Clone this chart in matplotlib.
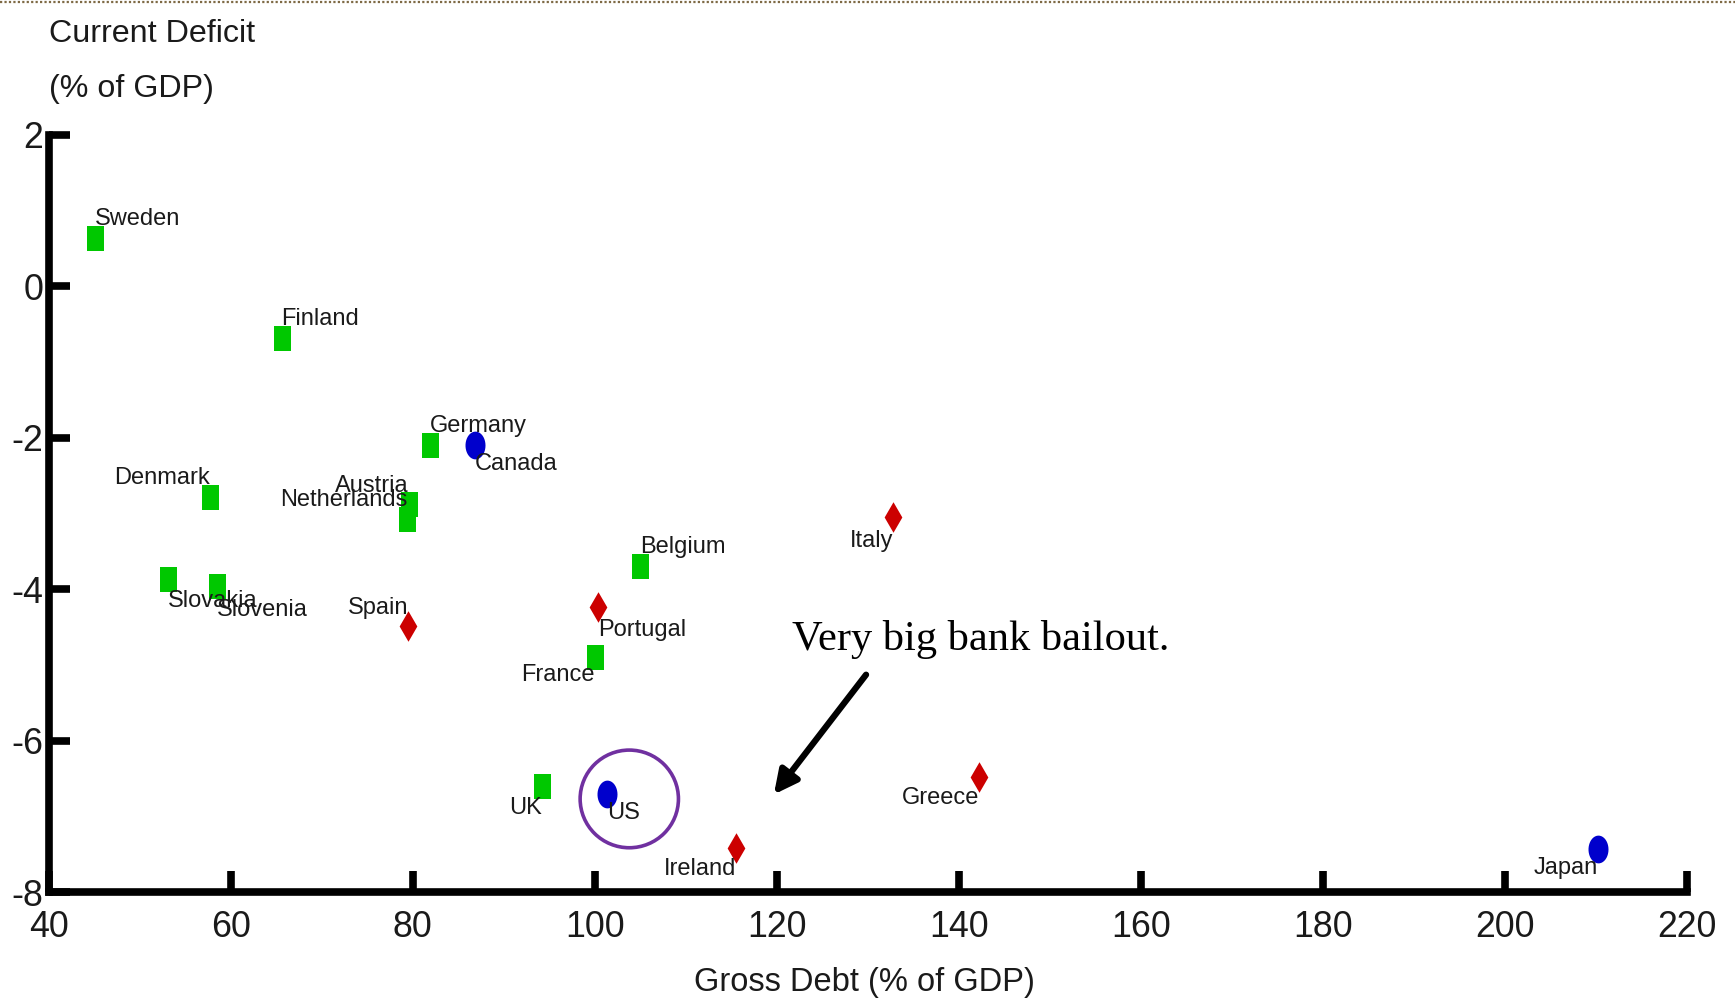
import numpy as np
import matplotlib
matplotlib.use("Agg")
import matplotlib.pyplot as plt
from matplotlib import font_manager
from matplotlib.patches import Ellipse
from matplotlib.lines import Line2D

# the original uses a narrow Arial-like face; use a narrow one if present,
# otherwise plain Liberation Sans set a bit smaller
installed = {f.name for f in font_manager.fontManager.ttflist}
if 'Liberation Sans Narrow' in installed:
    sans = 'Liberation Sans Narrow'
    k = 1.0
else:
    sans = 'Liberation Sans'
    k = 0.83
plt.rcParams['font.family'] = [sans, 'DejaVu Sans']
plt.rcParams['axes.unicode_minus'] = False

# data: gross debt (x) vs current deficit (y), % of GDP
green_names = ['Sweden', 'Finland', 'Germany', 'Denmark', 'Austria', 'Netherlands',
               'Slovakia', 'Slovenia', 'Belgium', 'France', 'UK']
green_debt = [45.1, 65.6, 81.9, 57.7, 79.6, 79.4, 53.1, 58.5, 105.0, 100.0, 94.2]
green_deficit = [0.64, -0.68, -2.09, -2.78, -2.88, -3.07, -3.86, -3.96, -3.69, -4.89, -6.60]

red_names = ['Spain', 'Portugal', 'Italy', 'Ireland', 'Greece']
red_debt = [79.5, 100.4, 132.8, 115.5, 142.2]
red_deficit = [-4.49, -4.24, -3.04, -7.42, -6.48]

blue_names = ['Canada', 'US', 'Japan']
blue_debt = [86.8, 101.4, 210.2]
blue_deficit = [-2.09, -6.70, -7.43]

x_ticks = [40, 60, 80, 100, 120, 140, 160, 180, 200, 220]
y_ticks = [-8, -6, -4, -2, 0, 2]

# label placement: (horizontal alignment, vertical offset in points)
label_place = {
    'Sweden': ('left', 13.5), 'Finland': ('left', 13.5), 'Germany': ('left', 13.5),
    'Canada': ('left', -14), 'Denmark': ('right', 13.5), 'Austria': ('right', 13.5),
    'Netherlands': ('right', 13.5), 'Slovakia': ('left', -16), 'Slovenia': ('left', -17.5),
    'Spain': ('right', 13.5), 'Portugal': ('left', -16), 'Belgium': ('left', 13.5),
    'France': ('right', -13.5), 'Italy': ('right', -17.5), 'UK': ('right', -16),
    'US': ('left', -14), 'Ireland': ('right', -15), 'Greece': ('right', -15),
    'Japan': ('right', -14),
}

# tall markers (the original picture is stretched vertically)
sq = [(-0.34, -0.5), (0.34, -0.5), (0.34, 0.5), (-0.34, 0.5), (-0.34, -0.5)]
dia = [(0, -0.5), (0.29, 0), (0, 0.5), (-0.29, 0), (0, -0.5)]
t = np.linspace(0, 2 * np.pi, 40)
ell = list(zip(0.36 * np.cos(t), 0.5 * np.sin(t)))

fig = plt.figure(figsize=(17.35, 10.05), dpi=100)
ax = fig.add_axes([0.028, 0.1124, 0.9443, 0.7533])

ax.plot(green_debt, green_deficit, linestyle='none', marker=sq, markersize=18,
        color='#00c800', markeredgewidth=0, clip_on=False, zorder=3)
ax.plot(red_debt, red_deficit, linestyle='none', marker=dia, markersize=22,
        color='#cc0000', markeredgewidth=0, clip_on=False, zorder=3)
ax.plot(blue_debt, blue_deficit, linestyle='none', marker=ell, markersize=20,
        color='#0000cc', markeredgewidth=0, clip_on=False, zorder=3)

for names, xs, ys in [(green_names, green_debt, green_deficit),
                      (red_names, red_debt, red_deficit),
                      (blue_names, blue_debt, blue_deficit)]:
    for n, x, y in zip(names, xs, ys):
        ha, dy = label_place[n]
        ax.annotate(n, (x, y), xytext=(0, dy), textcoords='offset points',
                    ha=ha, va='center', fontsize=20.5 * k, color='#1a1a1a', zorder=4)

ax.set_xlim(40, 220)
ax.set_ylim(-8, 2)
ax.set_xticks(x_ticks)
ax.set_yticks(y_ticks)
for s in ['top', 'right']:
    ax.spines[s].set_visible(False)
for s in ['left', 'bottom']:
    ax.spines[s].set_linewidth(5.5)
    ax.spines[s].set_capstyle('projecting')
ax.tick_params(direction='in', length=15, width=5.5, labelsize=31 * k, colors='black')
ax.tick_params(axis='y', pad=4)
ax.tick_params(axis='x', pad=13)
for lab in ax.get_xticklabels() + ax.get_yticklabels():
    lab.set_color('#1a1a1a')

# US highlight circle
ax.add_patch(Ellipse((103.8, -6.77), 10.8, 1.29, fill=False, edgecolor='#7030a0',
                     linewidth=2.6, zorder=5))

# annotation
ax.text(121.65, -4.67, 'Very big bank bailout.', fontsize=30.6, family='Liberation Serif',
        va='center', ha='left', color='black')
ax.annotate('', xy=(119.5, -6.74), xytext=(130.0, -5.1),
            arrowprops=dict(arrowstyle='-|>', lw=4.5, color='black', mutation_scale=35))

fig.text(0.028, 0.966, 'Current Deficit', fontsize=28 * k, va='center', ha='left', color='#1a1a1a')
fig.text(0.028, 0.911, '(% of GDP)', fontsize=28 * k, va='center', ha='left', color='#1a1a1a')
fig.text(0.4985, 0.022, 'Gross Debt (% of GDP)', fontsize=28.3 * k, va='center', ha='center',
         color='#1a1a1a')

# dotted border on top
fig.add_artist(Line2D([0, 1], [0.9985, 0.9985], transform=fig.transFigure,
                      color='#7f6a45', lw=1.6, linestyle=(0, (1, 1))))

fig.savefig('out.png', dpi=100)
